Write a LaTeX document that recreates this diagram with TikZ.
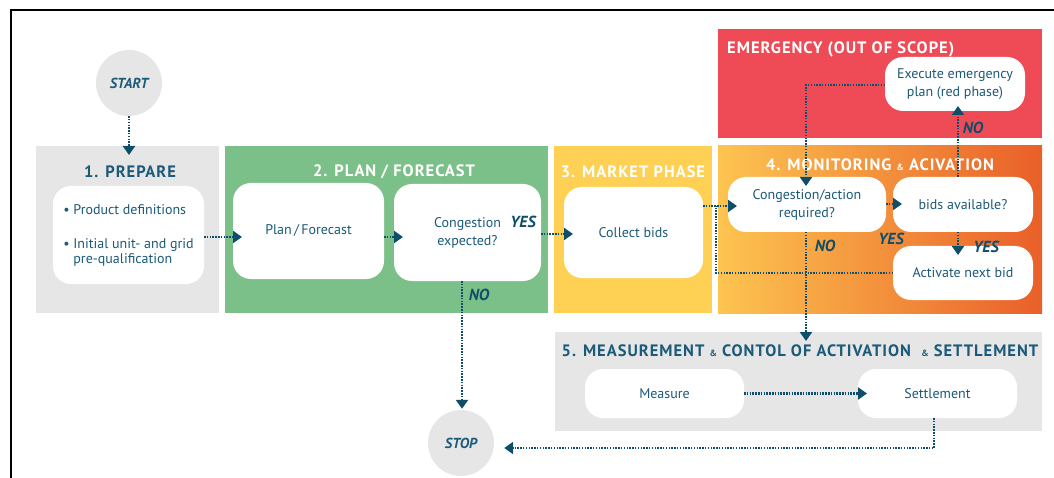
\documentclass[tikz,border=0pt]{standalone}
\usepackage{fontspec}
\setmainfont{PT Sans}
\newfontfamily\titlefont[LetterSpace=6]{PT Sans}
\usetikzlibrary{arrows.meta}
\definecolor{inkteal}{HTML}{1B5A78}
\definecolor{arrowteal}{HTML}{0F4E6A}
\definecolor{phgrey}{HTML}{E6E6E6}
\definecolor{phgreen}{HTML}{7BC088}
\definecolor{phyellow}{HTML}{FED154}
\definecolor{phred}{HTML}{EF4B56}
\definecolor{orleft}{HTML}{FDC450}
\definecolor{ormid}{HTML}{F49C32}
\definecolor{orright}{HTML}{E95F29}
\begin{document}
\begin{tikzpicture}[x=1pt,y=-1pt,
  phase/.style={inner sep=0pt, outer sep=0pt},
  wbox/.style={fill=white, rounded corners=18pt, inner sep=2pt, outer sep=0pt,
    align=center, text=inkteal, font=\fontsize{14}{18}\selectfont},
  circ/.style={circle, fill=phgrey, minimum size=66pt, inner sep=0pt,
    text=inkteal, font=\fontsize{14.5}{16}\selectfont\bfseries\itshape},
  title/.style={text=white, font=\fontsize{16.5}{19}\titlefont\bfseries, inner sep=0pt},
  dtitle/.style={title, text=inkteal},
  lbl/.style={text=arrowteal, font=\fontsize{16}{18}\selectfont\bfseries\itshape, inner sep=0pt},
  dotline/.style={draw=arrowteal, line width=2.4pt, dash pattern=on 1.5pt off 1.3pt},
  arr/.style={dotline, -{Triangle[width=12pt,length=9pt]}},
  arrin/.style={arr, shorten >=-9pt}
]
\useasboundingbox (0,0) rectangle (1054,478);

% frame
\draw[line width=2pt] (10.5,478) -- (10.5,10.5) -- (1054,10.5);

% phase panels
\node[phase, fill=phgrey,   minimum width=183pt, minimum height=167pt] (p1) at (127.5,229.5) {};
\node[phase, fill=phgreen,  minimum width=323pt, minimum height=167pt] (p2) at (386.5,229.5) {};
\node[phase, fill=phyellow, minimum width=158pt, minimum height=167pt] (p3) at (633,229.5) {};
\node[phase, left color=orleft, middle color=ormid, right color=orright,
      minimum width=324pt, minimum height=167pt] (p4) at (880,229.5) {};
\node[phase, fill=phred,    minimum width=324pt, minimum height=109pt] (pe) at (880,83.5) {};
\node[phase, fill=phgrey,   minimum width=487pt, minimum height=99pt] (p5) at (798.5,381.5) {};

% panel titles
\node[dtitle] (t1) at (130,172) {1. PREPARE};
\node[title]  (t2) at (394,172) {2. PLAN / FORECAST};
\node[title]  (t3) at (633,172) {3. MARKET PHASE};
\node[title]  (t4) at (880,165) {4. MONITORING {\small\&} ACIVATION};
\node[title, anchor=west] (te) at (727,49) {EMERGENCY (OUT OF SCOPE)};
\node[dtitle] (t5) at (800,351) {5. MEASUREMENT {\small\&} CONTOL OF ACTIVATION\ \ {\small\&} SETTLEMENT};

% start / stop
\node[circ] (start) at (129,83) {START};
\node[circ] (stop) at (461,443) {STOP};

% process boxes
\node[wbox, minimum width=151pt, minimum height=98pt, align=left, font=\fontsize{14}{15}\selectfont] (prep) at (128.5,235)
  {\textbullet\ Product definitions\\[19pt]\textbullet\ Initial unit- and grid\\\hphantom{\textbullet\ }pre-qualification};
\node[wbox, minimum width=151pt, minimum height=96pt] (plan) at (308.5,231) {\raisebox{3pt}{Plan\,/\,Forecast}};
\node[wbox, minimum width=147pt, minimum height=97pt] (cong) at (467.5,232.5) {Congestion\\expected?};
\node[wbox, minimum width=139pt, minimum height=91pt] (collect) at (633.5,232.5) {Collect bids};
\node[wbox, minimum width=158pt, minimum height=55pt] (congA) at (807,204.5) {Congestion/action\\required?};
\node[wbox, minimum width=140pt, minimum height=55pt] (bids) at (963,204.5) {bids available?};
\node[wbox, minimum width=140pt, minimum height=54pt] (activ) at (963,273) {Activate next bid};
\node[wbox, minimum width=140pt, minimum height=54pt] (exec) at (955,84) {Execute emergency\\plan (red phase)};
\node[wbox, minimum width=159pt, minimum height=49pt] (measure) at (664.5,393.5) {Measure};
\node[wbox, minimum width=159pt, minimum height=49pt] (settle) at (937.5,393.5) {Settlement};

% branch labels
\node[lbl] (yes1) at (523,222) {YES};
\node[lbl] (no1) at (479,295) {NO};
\node[lbl] (no2) at (825,246) {NO};
\node[lbl] (yes2) at (891,239) {YES};
\node[lbl] (yes3) at (986,247) {YES};
\node[lbl] (no3) at (973,128) {NO};

% helper points
\coordinate (j1) at (716,206);
\coordinate (j2) at (716,273);
\coordinate (xv) at (806,85);
\coordinate (sb) at (934,448);

% connectors
\draw[arrin] (start.south) -- (p1.north -| start);
\draw[arrin] (prep.east |- 0,237) -- (plan.west |- 0,237);
\draw[arrin] (plan.east |- 0,237) -- (cong.west |- 0,237);
\draw[arrin] (cong.east |- 0,234) -- (collect.west |- 0,234);
\draw[arr, shorten >=1pt] (cong.south -| 462,0) -- (stop.north -| 462,0);
\draw[arrin] (collect.east |- j1) -- (congA.west |- j1);
\draw[dotline] (activ.west) -- (j2) -- (j1);
\draw[arrin] (congA.east |- 0,204) -- (bids.west |- 0,204);
\draw[arrin] (bids.south -| 958,0) -- (activ.north -| 958,0);
\draw[arr, shorten >=-5pt] (bids.north -| 958,0) -- (exec.south -| 958,0);
\draw[arrin] (exec.west |- xv) -- (xv) -- (congA.north -| xv);
\draw[arrin] (congA.south -| xv) -- (p5.north -| xv);
\draw[arrin] (measure.east) -- (settle.west);
\draw[arr, shorten >=10pt] (settle.south -| sb) -- (sb) -- (stop.east |- sb);
\end{tikzpicture}
\end{document}
